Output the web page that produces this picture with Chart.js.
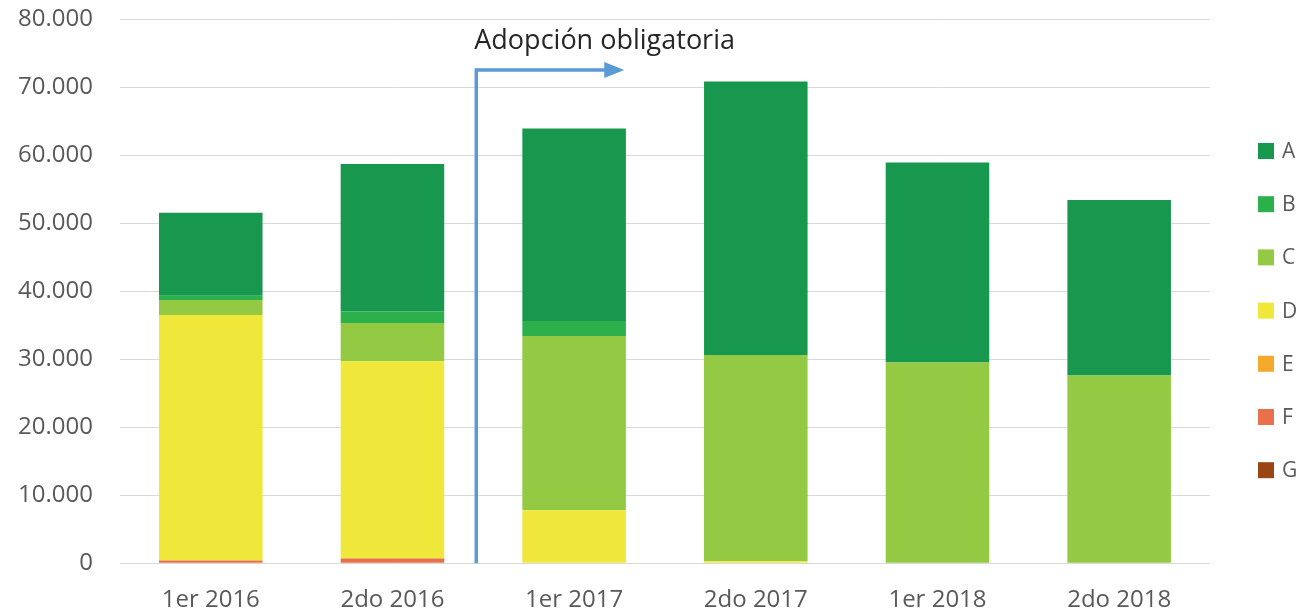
<!DOCTYPE html>
<html lang="es">
<head>
<meta charset="UTF-8">
<title>Adopción obligatoria</title>
<script src="https://cdn.jsdelivr.net/npm/chart.js"></script>
<style>
  html, body { margin: 0; padding: 0; background: #fff; }
  #wrap { width: 1312px; height: 612px; }
</style>
</head>
<body>
<div id="wrap"><canvas id="chart" width="1312" height="612"></canvas></div>
<script>
// periodos
const periods = ['1er 2016', '2do 2016', '1er 2017', '2do 2017', '1er 2018', '2do 2018'];

// valores por categoria
const serieA = [12200, 21650, 28300, 40200, 29400, 25800];
const serieB = [600, 1750, 2200, 0, 0, 0];
const serieC = [2200, 5600, 25600, 30300, 29500, 27600];
const serieD = [36100, 29000, 7800, 300, 0, 0];
const serieE = [0, 0, 0, 0, 0, 0];
const serieF = [400, 700, 0, 0, 0, 0];
const serieG = [0, 0, 0, 0, 0, 0];

const labelsSeries = ['A', 'B', 'C', 'D', 'E', 'F', 'G'];
const colores = ['#18984E', '#2BB04C', '#94C943', '#EFE83A', '#F4A92A', '#E8704A', '#9A4612'];
const valores = [serieA, serieB, serieC, serieD, serieE, serieF, serieG];

const yTicks = [0, 10000, 20000, 30000, 40000, 50000, 60000, 70000, 80000];

const anotacion = 'Adopción obligatoria';
const FONT = "'Open Sans', sans-serif";

// apilado de abajo hacia arriba: G primero, A al final
const datasets = labelsSeries.map((l, i) => ({
    label: l,
    data: valores[i],
    backgroundColor: colores[i],
    borderWidth: 0,
    barPercentage: 0.57,
    categoryPercentage: 1.0
})).reverse();

const fmt = v => String(v).replace(/\B(?=(\d{3})+(?!\d))/g, '.');

// flecha + texto de anotacion
const flechaPlugin = {
    id: 'flecha',
    afterDatasetsDraw(chart) {
        const ctx = chart.ctx;
        const xs = chart.scales.x, ys = chart.scales.y;
        const x0 = (xs.getPixelForValue(1) + xs.getPixelForValue(2)) / 2 - 7;
        const yTop = ys.getPixelForValue(72500);
        const yBot = ys.getPixelForValue(0);
        const xEnd = x0 + 130;
        ctx.save();
        ctx.strokeStyle = '#5B9BD5';
        ctx.fillStyle = '#5B9BD5';
        ctx.lineWidth = 3.5;
        ctx.beginPath();
        ctx.moveTo(x0, yBot);
        ctx.lineTo(x0, yTop);
        ctx.lineTo(xEnd, yTop);
        ctx.stroke();
        ctx.beginPath();
        ctx.moveTo(xEnd - 2, yTop - 8);
        ctx.lineTo(xEnd + 18, yTop);
        ctx.lineTo(xEnd - 2, yTop + 8);
        ctx.closePath();
        ctx.fill();
        ctx.fillStyle = '#262626';
        ctx.font = '27px ' + FONT;
        ctx.textAlign = 'left';
        ctx.textBaseline = 'alphabetic';
        ctx.fillText(anotacion, x0 - 2, ys.getPixelForValue(75600));
        ctx.restore();
    }
};

// leyenda a la derecha
const leyendaPlugin = {
    id: 'leyenda',
    afterDraw(chart) {
        const ctx = chart.ctx;
        const x = chart.chartArea.right + 48;
        ctx.save();
        ctx.font = '21px ' + FONT;
        ctx.textBaseline = 'middle';
        ctx.textAlign = 'left';
        labelsSeries.forEach((l, i) => {
            const cy = 151 + i * 53.2;
            ctx.fillStyle = colores[i];
            ctx.fillRect(x, cy - 8, 16, 16);
            ctx.fillStyle = '#595959';
            ctx.fillText(l, x + 24, cy + 1);
        });
        ctx.restore();
    }
};

new Chart(document.getElementById('chart'), {
    type: 'bar',
    data: { labels: periods, datasets: datasets },
    options: {
        responsive: false,
        animation: false,
        layout: { padding: { left: -9, right: 102, top: 19, bottom: -26 } },
        scales: {
            x: {
                stacked: true,
                grid: { display: false, drawTicks: false },
                border: { display: false },
                ticks: { color: '#595959', font: { family: FONT, size: 24 }, padding: 23, maxRotation: 0 }
            },
            y: {
                stacked: true,
                min: 0,
                max: 80000,
                afterBuildTicks: axis => { axis.ticks = yTicks.map(v => ({ value: v })); },
                afterFit: axis => { axis.paddingTop = 0; axis.paddingBottom = 0; },
                grid: { color: '#D9D9D9', lineWidth: 1, drawTicks: false },
                border: { display: false },
                ticks: { color: '#595959', font: { family: FONT, size: 24 }, padding: 27, callback: v => fmt(v) }
            }
        },
        plugins: {
            legend: { display: false },
            tooltip: { enabled: false }
        }
    },
    plugins: [flechaPlugin, leyendaPlugin]
});
</script>
</body>
</html>
